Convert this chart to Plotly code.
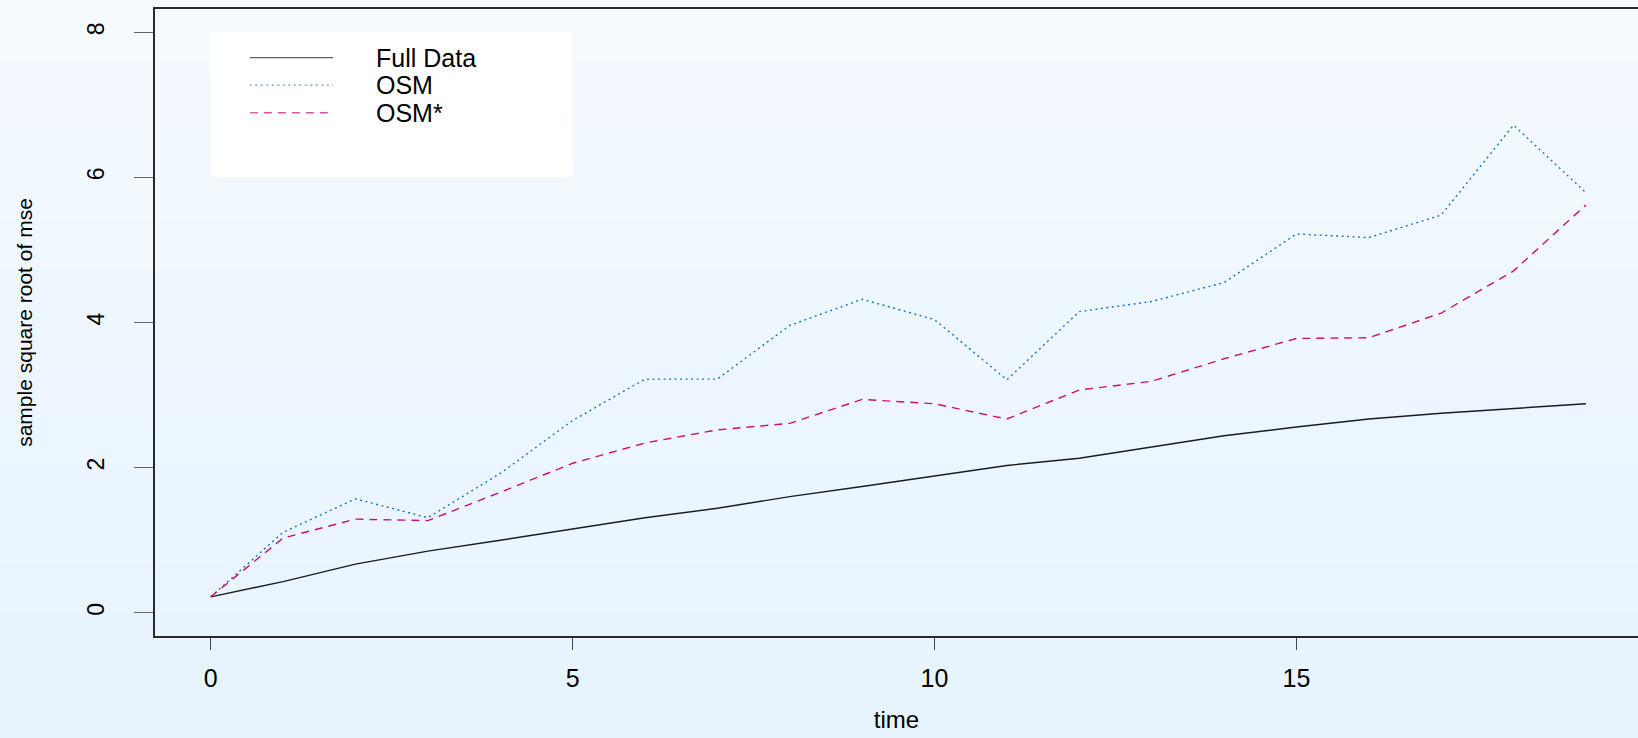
import plotly.graph_objects as go

# Sample root-MSE over time for the three estimators
time = list(range(20))
full_data = [0.22, 0.43, 0.67, 0.85, 1.00, 1.15, 1.31, 1.44, 1.60, 1.74,
             1.88, 2.03, 2.13, 2.29, 2.44, 2.56, 2.67, 2.75, 2.82, 2.88]
osm = [0.22, 1.11, 1.57, 1.31, 1.92, 2.65, 3.22, 3.22, 3.96, 4.32,
       4.04, 3.21, 4.15, 4.29, 4.55, 5.22, 5.17, 5.48, 6.72, 5.79]
osm_star = [0.22, 1.03, 1.29, 1.27, 1.66, 2.06, 2.34, 2.52, 2.61, 2.94,
            2.88, 2.67, 3.07, 3.19, 3.50, 3.78, 3.79, 4.13, 4.71, 5.62]

series_names = ["Full Data", "OSM", "OSM*"]
x_ticks = [0, 5, 10, 15]
y_ticks = [0, 2, 4, 6, 8]

# figure geometry
W, H = 1638, 738
ML, MR, MT, MB = 155, 0, 9, 102
X_RANGE = [-0.77, 19.72]
Y_RANGE = [-0.32, 8.32]

FONT = "Liberation Sans, Arial, Helvetica, sans-serif"
line_styles = [
    dict(color="#1c1c1c", width=1.4, dash="solid"),
    dict(color="#1874CD", width=1.4, dash="2px,3.5px"),
    dict(color="#CD1076", width=1.4, dash="8px,6px"),
]

fig = go.Figure()
for name, values, style in zip(series_names, [full_data, osm, osm_star], line_styles):
    fig.add_trace(go.Scatter(x=time, y=values, mode="lines", name=name,
                             line=style, showlegend=False, hoverinfo="x+y+name"))

# soft vertical gradient behind everything
shapes = []
top_col = (245, 250, 255)
bot_col = (230, 243, 253)
n_bands = 60
plot_h = H - MT - MB
y_top_paper = (H - MB) / plot_h
y_bot_paper = -MB / plot_h
for i in range(n_bands):
    t = i / (n_bands - 1)
    r = round(top_col[0] + (bot_col[0] - top_col[0]) * t)
    g = round(top_col[1] + (bot_col[1] - top_col[1]) * t)
    b = round(top_col[2] + (bot_col[2] - top_col[2]) * t)
    y1 = y_top_paper - (y_top_paper - y_bot_paper) * i / n_bands
    y0 = y_top_paper - (y_top_paper - y_bot_paper) * (i + 1) / n_bands
    shapes.append(dict(type="rect", xref="paper", yref="paper",
                       x0=-0.2, x1=1.1, y0=y0 - 0.002, y1=y1 + 0.002,
                       fillcolor=f"rgb({r},{g},{b})", line=dict(width=0),
                       layer="below"))

# legend panel drawn inside the plot region
LEG_BOX = dict(x0=0, x1=5, y0=6, y1=8)
LEG_SAMPLE_X = (0.54, 1.69)
LEG_TEXT_X = 2.25
LEG_ROWS_Y = [7.65, 7.27, 6.89]
shapes.append(dict(type="rect", xref="x", yref="y", **LEG_BOX,
                   fillcolor="white", line=dict(width=0), layer="below"))
annotations = []
for name, style, ly in zip(series_names, line_styles, LEG_ROWS_Y):
    shapes.append(dict(type="line", xref="x", yref="y",
                       x0=LEG_SAMPLE_X[0], x1=LEG_SAMPLE_X[1], y0=ly, y1=ly,
                       line=dict(color=style["color"], width=1.3, dash=style["dash"]),
                       opacity=0.7))
    annotations.append(dict(x=LEG_TEXT_X, y=ly, xref="x", yref="y", text=name,
                            showarrow=False, xanchor="left", yanchor="middle",
                            font=dict(family=FONT, size=25, color="black")))

fig.update_layout(
    width=W, height=H,
    margin=dict(l=ML, r=MR, t=MT, b=MB, pad=0),
    paper_bgcolor="rgb(238,246,254)",
    plot_bgcolor="rgba(0,0,0,0)",
    font=dict(family=FONT, color="black"),
    shapes=shapes,
    annotations=annotations,
    showlegend=False,
)
fig.update_xaxes(
    range=X_RANGE, tickmode="array", tickvals=x_ticks,
    ticktext=[str(v) for v in x_ticks],
    ticks="outside", ticklen=12, tickwidth=1, tickcolor="#444",
    tickfont=dict(family=FONT, size=25, color="black"),
    ticklabelstandoff=7,
    showgrid=False, zeroline=False,
    showline=True, linecolor="#2a2a2a", linewidth=1.5, mirror=True,
    title=dict(text="time", standoff=20,
               font=dict(family=FONT, size=24, color="black")),
)
fig.update_yaxes(
    range=Y_RANGE, tickmode="array", tickvals=y_ticks,
    ticktext=[str(v) for v in y_ticks],
    ticks="outside", ticklen=19, tickwidth=1, tickcolor="#666",
    tickangle=-90,
    tickfont=dict(family=FONT, size=23, color="black"),
    ticklabelstandoff=21,
    showgrid=False, zeroline=False,
    showline=True, linecolor="#2a2a2a", linewidth=2, mirror=False,
    title=dict(text="sample square root of mse", standoff=44,
               font=dict(family=FONT, size=21, color="black")),
)

fig.write_html("out.html")
